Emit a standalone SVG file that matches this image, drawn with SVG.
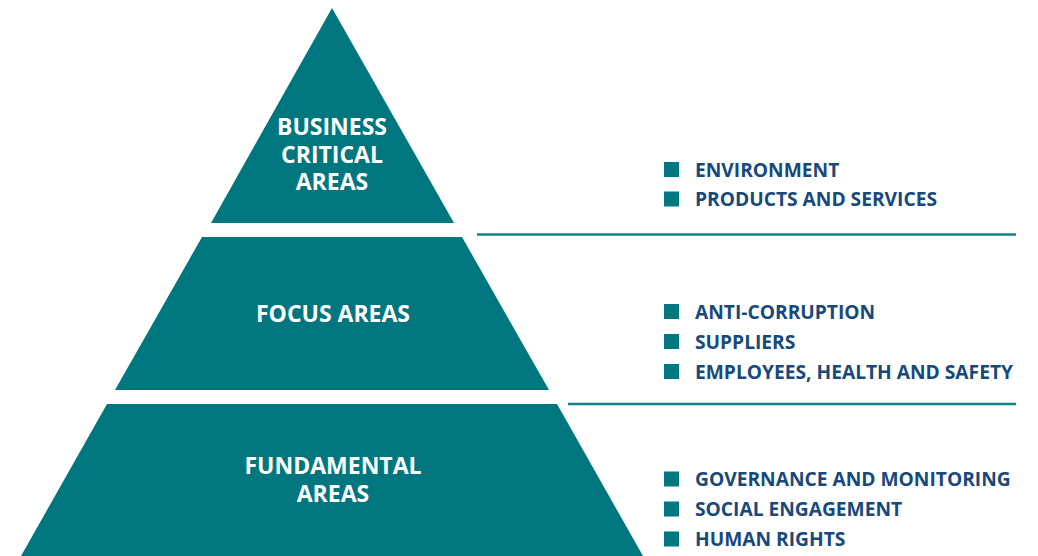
<svg xmlns="http://www.w3.org/2000/svg" width="1038" height="556" viewBox="0 0 1038 556">
<style>
.tier{fill:#00767f}
.lbl{font-family:"Open Sans","Liberation Sans",sans-serif;font-weight:700;font-size:23px;fill:#ffffff;text-anchor:middle}
.item{font-family:"Open Sans","Liberation Sans",sans-serif;font-weight:700;font-size:19.2px;fill:#17497c}
.bul{fill:#00767f}
.sep{stroke:#16808a;stroke-width:2.5;fill:none}
</style>
<rect width="1038" height="556" fill="#ffffff"/>
<g id="tier-business">
<polygon class="tier" points="332,8 454,223 211,223"/>
<text class="lbl" x="332" y="135">BUSINESS</text>
<text class="lbl" x="332" y="163">CRITICAL</text>
<text class="lbl" x="332" y="190">AREAS</text>
</g>
<g id="tier-focus">
<polygon class="tier" points="202,237 462,237 549,390 115,390"/>
<text class="lbl" x="333" y="322">FOCUS AREAS</text>
</g>
<g id="tier-fundamental">
<polygon class="tier" points="107,404 557,404 643,556 21,556"/>
<text class="lbl" x="333" y="474">FUNDAMENTAL</text>
<text class="lbl" x="333" y="502">AREAS</text>
</g>
<g id="connectors">
<line class="sep" x1="477" y1="234.5" x2="1016" y2="234.5"/>
<line class="sep" x1="568" y1="404" x2="1016" y2="404"/>
</g>
<g id="list-business">
<rect class="bul" x="664" y="162" width="15" height="15"/>
<text class="item" x="695" y="177">ENVIRONMENT</text>
<rect class="bul" x="664" y="191.5" width="15" height="15"/>
<text class="item" x="695" y="206">PRODUCTS AND SERVICES</text>
</g>
<g id="list-focus">
<rect class="bul" x="664" y="304" width="15" height="15"/>
<text class="item" x="695" y="318.5">ANTI-CORRUPTION</text>
<rect class="bul" x="664" y="334" width="15" height="15"/>
<text class="item" x="695" y="348.5">SUPPLIERS</text>
<rect class="bul" x="664" y="364" width="15" height="15"/>
<text class="item" x="695" y="378.5">EMPLOYEES, HEALTH AND SAFETY</text>
</g>
<g id="list-fundamental">
<rect class="bul" x="664" y="471.5" width="15" height="15"/>
<text class="item" x="695" y="486">GOVERNANCE AND MONITORING</text>
<rect class="bul" x="664" y="501.5" width="15" height="15"/>
<text class="item" x="695" y="516">SOCIAL ENGAGEMENT</text>
<rect class="bul" x="664" y="531.5" width="15" height="15"/>
<text class="item" x="695" y="546">HUMAN RIGHTS</text>
</g>
</svg>
